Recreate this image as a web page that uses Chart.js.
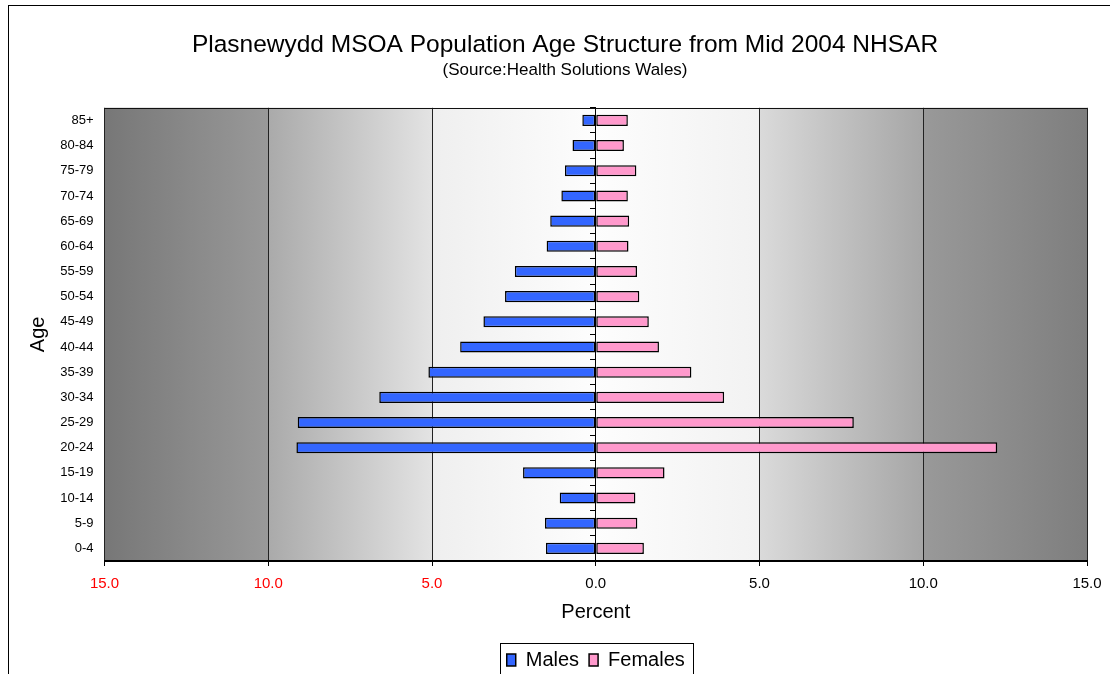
<!DOCTYPE html>
<html>
<head>
<meta charset="utf-8">
<script src="https://cdn.jsdelivr.net/npm/chart.js@4.4.1/dist/chart.umd.min.js"></script>
<style>
  html, body { margin: 0; padding: 0; background: #fff; overflow: hidden; }
</style>
</head>
<body>
<canvas id="pyramid" width="1126" height="690"></canvas>
<script>
const ageGroups = ['0-4', '5-9', '10-14', '15-19', '20-24', '25-29', '30-34', '35-39', '40-44',
                   '45-49', '50-54', '55-59', '60-64', '65-69', '70-74', '75-79', '80-84', '85+'];
const malesPct = [1.52, 1.55, 1.10, 2.22, 9.14, 9.10, 6.61, 5.11, 4.14,
                  3.43, 2.77, 2.47, 1.50, 1.39, 1.05, 0.94, 0.71, 0.41];
const femalesPct = [1.47, 1.27, 1.21, 2.10, 12.26, 7.88, 3.92, 2.92, 1.93,
                    1.62, 1.33, 1.26, 1.00, 1.02, 0.98, 1.24, 0.86, 0.98];
const xTicks = [-15, -10, -5, 0, 5, 10, 15];

const FONT = "'Liberation Sans', Arial, sans-serif";

// grey-to-white gradient behind the plot, plus the frame lines
const plotBackground = {
    id: 'plotBackground',
    beforeDraw(chart) {
        const { ctx, chartArea: a } = chart;
        const g = ctx.createLinearGradient(a.left, 0, a.right, 0);
        g.addColorStop(0, '#777777');
        g.addColorStop(0.166, '#999999');
        g.addColorStop(0.167, '#aaaaaa');
        g.addColorStop(0.333, '#e3e3e3');
        g.addColorStop(0.334, '#efefef');
        g.addColorStop(0.5, '#fdfdfd');
        g.addColorStop(0.666, '#f2f2f2');
        g.addColorStop(0.667, '#dadada');
        g.addColorStop(0.833, '#a6a6a6');
        g.addColorStop(0.834, '#999999');
        g.addColorStop(1, '#7e7e7e');
        ctx.save();
        ctx.fillStyle = g;
        ctx.fillRect(a.left, a.top, a.right - a.left, a.bottom - a.top);
        ctx.restore();
    },
    beforeDatasetsDraw(chart) {
        const { ctx, chartArea: a } = chart;
        ctx.save();
        ctx.strokeStyle = '#111';
        ctx.lineWidth = 1;
        ctx.beginPath();
        ctx.moveTo(a.left, Math.round(a.top) + 0.5);
        ctx.lineTo(a.right, Math.round(a.top) + 0.5);
        ctx.stroke();
        ctx.restore();
    },
    afterDraw(chart) {
        const { ctx, legend } = chart;
        ctx.save();
        ctx.strokeStyle = '#000';
        ctx.lineWidth = 1;
        // outer chart border (runs off the right and bottom)
        ctx.strokeRect(8.5, 5.5, 2000, 2000);
        // box round the legend
        const boxes = legend.legendHitBoxes;
        if (boxes.length) {
            const l = Math.min(...boxes.map(b => b.left)) - 7;
            const r = Math.max(...boxes.map(b => b.left + b.width)) + 8;
            const t = Math.min(...boxes.map(b => b.top)) - 7;
            const h = boxes[0].height + 16;
            ctx.strokeRect(Math.round(l) + 0.5, Math.round(t) + 0.5, Math.round(r - l), h);
        }
        ctx.restore();
    }
};

new Chart(document.getElementById('pyramid'), {
    type: 'bar',
    data: {
        labels: ageGroups,
        datasets: [{
            label: 'Males',
            data: malesPct.map(v => -v),
            backgroundColor: '#3366FF',
            borderColor: '#000',
            borderWidth: 1.5,
            borderSkipped: false,
            barPercentage: 0.44,
            categoryPercentage: 1
        }, {
            label: 'Females',
            data: femalesPct,
            backgroundColor: '#FF99CC',
            borderColor: '#000',
            borderWidth: 1.5,
            borderSkipped: false,
            barPercentage: 0.44,
            categoryPercentage: 1
        }]
    },
    options: {
        indexAxis: 'y',
        responsive: false,
        animation: false,
        layout: { padding: { left: 43, right: 39, top: 0, bottom: 10 } },
        scales: {
            x: {
                stacked: true,
                min: -15,
                max: 15,
                afterBuildTicks: s => { s.ticks = xTicks.map(v => ({ value: v })); },
                afterFit: s => { s.height = 79; },
                grid: { color: '#222', lineWidth: 1, tickLength: 5, tickColor: '#000', drawTicks: true },
                border: { color: '#000', width: 2 },
                ticks: {
                    padding: 9,
                    font: { family: FONT, size: 15 },
                    color: c => (c.tick && c.tick.value < 0 ? '#FF0000' : '#000'),
                    callback: v => Math.abs(v).toFixed(1)
                },
                title: {
                    display: true,
                    text: 'Percent',
                    color: '#000',
                    font: { family: FONT, size: 20 },
                    padding: { top: 0, bottom: 16 }
                }
            },
            y: {
                stacked: true,
                reverse: true,
                afterFit: s => { s.width = 61.5; },
                grid: { display: false },
                border: { display: false },
                ticks: { padding: 3, color: '#000', font: { family: FONT, size: 13 } },
                title: {
                    display: true,
                    text: 'Age',
                    color: '#000',
                    font: { family: FONT, size: 20 },
                    padding: { top: -17, bottom: 0 }
                }
            },
            yZero: {
                type: 'category',
                position: { x: 0 },
                reverse: true,
                offset: true,
                grid: { offset: true, drawOnChartArea: false, tickLength: 5, tickColor: '#000' },
                border: { color: '#000', width: 1 },
                ticks: { display: false }
            }
        },
        plugins: {
            title: {
                display: true,
                text: 'Plasnewydd MSOA Population Age Structure from Mid 2004 NHSAR',
                color: '#000',
                font: { family: FONT, size: 24.5, weight: 'normal' },
                padding: { top: 31, bottom: 0 }
            },
            subtitle: {
                display: true,
                text: '(Source:Health Solutions Wales)',
                color: '#000',
                font: { family: FONT, size: 17 },
                padding: { top: 0, bottom: 27 }
            },
            legend: {
                position: 'bottom',
                fullSize: false,
                labels: {
                    color: '#000',
                    font: { family: FONT, size: 20 },
                    boxWidth: 9,
                    boxHeight: 12,
                    padding: 10
                }
            },
            tooltip: { enabled: false }
        }
    },
    plugins: [plotBackground]
});
</script>
</body>
</html>
